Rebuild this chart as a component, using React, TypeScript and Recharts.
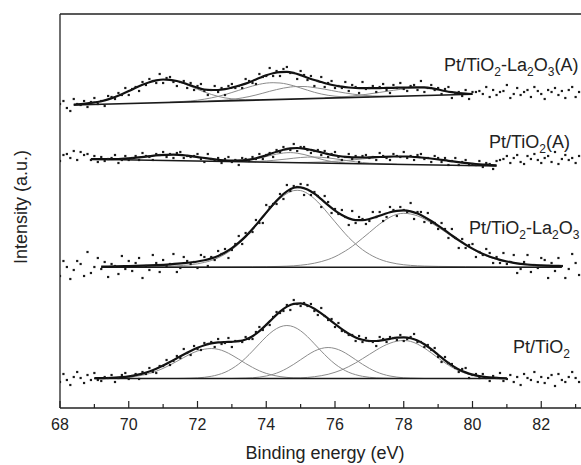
import React from 'react';
import { ComposedChart, Line, Scatter, XAxis, YAxis, ReferenceLine } from 'recharts';

// measured points: one value every 0.1 eV starting at 68.0 eV (intensity, a.u.)
const E_START = 68.0;
const E_STEP = 0.1;

const ptLaA = [
  304, 307, 300, 297, 309, 304, 303, 307, 301, 306,
  310, 304, 307, 302, 312, 311, 309, 315, 313, 320,
  313, 319, 321, 317, 326, 323, 329, 327, 325, 334,
  325, 330, 331, 326, 322, 326, 327, 320, 325, 318,
  322, 324, 317, 313, 318, 322, 316, 320, 313, 322,
  324, 320, 322, 320, 329, 327, 325, 324, 334, 331,
  332, 340, 332, 337, 332, 339, 341, 335, 335, 329,
  337, 333, 328, 332, 322, 327, 331, 321, 325, 327,
  320, 322, 320, 326, 317, 323, 321, 315, 326, 319,
  320, 322, 316, 321, 324, 318, 315, 323, 320, 325,
  319, 317, 322, 323, 318, 327, 316, 320, 323, 318,
  320, 314, 319, 321, 310, 315, 316, 312, 318, 309,
  316, 316, 317, 314, 321, 311, 318, 313, 316, 317,
  323, 310, 314, 320, 313, 316, 318, 311, 321, 317,
  314, 309, 318, 316, 320, 313, 317, 310, 318, 321,
  311, 316, 314,
];

const ptTiA = [
  247, 253, 254, 250, 257, 248, 256, 253, 254, 248,
  252, 246, 251, 247, 249, 250, 253, 245, 248, 252,
  248, 250, 252, 248, 255, 252, 251, 248, 254, 253,
  256, 251, 254, 250, 255, 256, 250, 252, 251, 252,
  254, 249, 246, 254, 249, 248, 250, 245, 249, 251,
  246, 248, 243, 250, 249, 247, 251, 249, 254, 249,
  253, 255, 251, 258, 256, 261, 259, 258, 264, 257,
  261, 261, 258, 255, 257, 258, 253, 257, 251, 254,
  256, 251, 248, 251, 254, 249, 252, 246, 252, 253,
  250, 251, 248, 255, 252, 250, 248, 254, 252, 251,
  256, 250, 252, 248, 253, 254, 249, 250, 246, 252,
  250, 246, 250, 243, 247, 250, 243, 246, 248, 243,
  244, 243, 247, 241, 245, 244, 239, 247, 248, 249,
  252, 245, 250, 253, 246, 244, 252, 249, 254, 248,
  245, 250, 252, 246, 256, 244, 249, 253, 248, 250,
  245, 252, 254,
];

const ptLa = [
  132, 147, 141, 129, 138, 147, 144, 132, 156, 135,
  141, 150, 139, 146, 131, 144, 142, 134, 152, 139,
  147, 137, 145, 150, 130, 142, 138, 153, 145, 136,
  148, 142, 144, 154, 136, 140, 151, 147, 144, 146,
  140, 153, 151, 142, 151, 148, 157, 154, 159, 150,
  158, 164, 172, 164, 175, 175, 176, 188, 185, 185,
  203, 201, 204, 204, 214, 209, 223, 217, 222, 221,
  224, 213, 223, 213, 216, 212, 201, 212, 206, 195,
  199, 194, 198, 191, 183, 197, 185, 191, 189, 184,
  187, 196, 191, 196, 187, 191, 201, 198, 192, 201,
  198, 196, 205, 189, 196, 196, 186, 195, 185, 185,
  179, 185, 179, 170, 179, 170, 160, 169, 160, 163,
  164, 151, 156, 153, 159, 155, 145, 151, 145, 155,
  144, 146, 153, 135, 139, 146, 153, 136, 143, 140,
  150, 148, 130, 145, 137, 150, 142, 130, 139, 154,
  145, 133, 148,
];

const ptTi = [
  26, 34, 28, 23, 31, 36, 30, 25, 33, 28,
  35, 28, 27, 31, 30, 33, 26, 30, 33, 35,
  29, 32, 34, 29, 36, 34, 40, 36, 35, 42,
  42, 48, 43, 47, 52, 50, 59, 55, 53, 62,
  59, 58, 65, 64, 66, 61, 69, 64, 65, 70,
  61, 67, 67, 66, 71, 69, 69, 76, 81, 78,
  83, 83, 91, 96, 95, 97, 103, 98, 108, 104,
  102, 105, 102, 104, 97, 93, 100, 92, 88, 89,
  81, 85, 77, 76, 73, 73, 67, 72, 66, 70,
  67, 66, 62, 71, 69, 66, 71, 70, 68, 73,
  67, 69, 71, 74, 66, 66, 61, 63, 58, 60,
  51, 46, 51, 45, 44, 40, 36, 39, 40, 30,
  33, 34, 30, 34, 30, 27, 32, 30, 35, 27,
  29, 33, 26, 31, 23, 34, 30, 28, 36, 26,
  31, 25, 30, 33, 22, 34, 28, 26, 31, 36,
  30, 26, 34,
];

// fitted curves as [energy, intensity]
// Pt/TiO2-La2O3(A)
const laABase = [[68.4, 303.0], [80.0, 313.7]];
const laAFit = [
  [68.4, 303.3], [68.6, 303.8], [68.8, 304.6], [69.0, 305.6], [69.2, 306.8], [69.4, 308.6],
  [69.6, 311.0], [69.8, 313.8], [70.0, 316.9], [70.2, 320.2], [70.4, 323.3], [70.6, 325.8],
  [70.8, 327.6], [71.0, 328.5], [71.2, 328.2], [71.4, 327.0], [71.6, 325.0], [71.8, 322.6],
  [72.0, 320.3], [72.2, 318.5], [72.4, 318.0], [72.6, 318.0], [72.8, 318.8], [73.0, 320.4],
  [73.2, 322.2], [73.4, 324.4], [73.6, 327.1], [73.8, 330.0], [74.0, 332.7], [74.2, 334.7],
  [74.4, 335.9], [74.6, 336.1], [74.8, 335.0], [75.0, 332.9], [75.2, 330.3], [75.4, 328.0],
  [75.6, 326.0], [75.8, 324.0], [76.0, 322.5], [76.2, 321.3], [76.4, 320.5], [76.6, 320.0],
  [76.8, 319.8], [77.0, 319.8], [77.2, 319.9], [77.4, 320.0], [77.6, 320.1], [77.8, 320.3],
  [78.0, 320.4], [78.2, 320.6], [78.4, 320.7], [78.6, 320.6], [78.8, 319.8], [79.0, 318.5],
  [79.2, 317.0], [79.4, 315.8], [79.6, 314.9], [79.8, 314.3], [80.0, 314.0],
];
const laAPeak1 = [
  [68.4, 303.3], [68.6, 303.8], [68.8, 304.6], [69.0, 305.6], [69.2, 306.8], [69.4, 308.6],
  [69.6, 311.0], [69.8, 313.8], [70.0, 316.9], [70.2, 320.2], [70.4, 323.3], [70.6, 325.8],
  [70.8, 327.6], [71.0, 328.4], [71.2, 328.0], [71.4, 326.6], [71.6, 324.4], [71.8, 321.6],
  [72.0, 318.7], [72.2, 316.0], [72.4, 313.6], [72.6, 311.6], [72.8, 310.1], [73.0, 309.2],
  [73.2, 308.6], [73.4, 308.2], [73.6, 308.1], [73.8, 308.0],
];
const laAPeak2 = [
  [71.2, 305.8], [71.6, 306.6], [72.0, 307.8], [72.4, 310.1], [72.8, 313.4], [73.2, 317.7],
  [73.6, 322.0], [73.8, 323.7], [74.0, 324.9], [74.2, 325.3], [74.4, 325.0], [74.6, 323.9],
  [74.8, 322.2], [75.0, 320.0], [75.2, 317.8], [75.4, 315.7], [75.6, 314.0], [75.8, 312.7],
  [76.0, 311.8], [76.2, 311.3], [76.6, 310.9], [77.0, 310.9],
];
const laAPeak3 = [
  [72.3, 306.8], [72.7, 307.6], [72.9, 308.2], [73.1, 309.0], [73.3, 310.1], [73.5, 311.4],
  [73.7, 313.0], [73.9, 314.8], [74.1, 316.7], [74.3, 318.4], [74.5, 319.9], [74.7, 321.0],
  [74.9, 321.5], [75.1, 321.5], [75.3, 320.9], [75.5, 319.9], [75.7, 318.8], [75.9, 317.5],
  [76.1, 316.2], [76.3, 315.0], [76.5, 314.0], [76.7, 313.1], [76.9, 312.5], [77.1, 312.1],
  [77.3, 311.9], [77.7, 311.8],
];
const laAPeak4 = [
  [75.7, 310.0], [76.1, 310.8], [76.5, 312.0], [76.9, 313.6], [77.3, 315.6], [77.7, 317.7],
  [78.1, 319.4], [78.5, 320.3], [78.9, 319.1], [79.3, 316.3], [79.7, 314.5], [80.0, 314.0],
];

// Pt/TiO2(A)
const tiABase = [[68.9, 248.7], [80.7, 242.0]];
const tiAFit = [
  [68.9, 248.8], [69.3, 248.8], [69.7, 249.0], [70.1, 249.9], [70.5, 251.4], [70.9, 252.9],
  [71.3, 253.4], [71.7, 252.4], [72.1, 250.5], [72.5, 248.6], [72.9, 247.5], [73.3, 247.7],
  [73.5, 248.4], [73.7, 249.7], [73.9, 251.6], [74.1, 253.9], [74.3, 256.2], [74.5, 258.3],
  [74.7, 259.7], [74.9, 260.0], [75.1, 259.4], [75.3, 258.1], [75.5, 256.5], [75.7, 254.8],
  [75.9, 253.2], [76.1, 252.0], [76.3, 251.1], [76.5, 250.6], [76.9, 250.5], [77.3, 251.0],
  [77.7, 251.5], [78.1, 251.5], [78.5, 250.5], [78.9, 249.0], [79.3, 247.2], [79.7, 245.4],
  [80.1, 244.0], [80.4, 243.3], [80.7, 242.6],
];
const tiAPeak1 = [
  [68.9, 248.7], [69.3, 248.8], [69.7, 249.0], [70.1, 249.9], [70.5, 251.4], [70.9, 252.9],
  [71.3, 253.4], [71.7, 252.4], [72.1, 250.5], [72.5, 248.6], [72.9, 247.3], [73.3, 246.5],
  [73.7, 246.0],
];
const tiAPeak2 = [
  [72.7, 246.7], [73.1, 246.8], [73.3, 247.2], [73.5, 247.9], [73.7, 249.1], [73.9, 250.6],
  [74.1, 252.3], [74.3, 253.9], [74.5, 255.0], [74.7, 255.4], [74.9, 254.8], [75.1, 253.5],
  [75.3, 251.6], [75.5, 249.7], [75.7, 247.9], [75.9, 246.5], [76.1, 245.6], [76.3, 245.0],
  [76.7, 244.4],
];
const tiAPeak3 = [
  [73.4, 246.4], [73.8, 246.7], [74.0, 247.1], [74.2, 247.6], [74.4, 248.3], [74.6, 249.0],
  [74.8, 249.8], [75.0, 250.5], [75.2, 250.9], [75.4, 251.0], [75.6, 250.7], [75.8, 250.1],
  [76.0, 249.2], [76.2, 248.2], [76.4, 247.1], [76.6, 246.2], [76.8, 245.5], [77.0, 244.9],
  [77.2, 244.5], [77.4, 244.2], [77.8, 243.7],
];
const tiAPeak4 = [
  [74.8, 245.5], [75.2, 245.6], [75.6, 246.0], [76.0, 246.7], [76.4, 247.7], [76.8, 249.1],
  [77.2, 250.4], [77.6, 251.4], [78.0, 251.5], [78.4, 250.9], [78.8, 249.5], [79.2, 247.7],
  [79.6, 245.9], [80.0, 244.4], [80.4, 243.3], [80.7, 242.6],
];

// Pt/TiO2-La2O3
const laBase = [[69.2, 140.7], [82.6, 140.7]];
const laFit = [
  [69.2, 141.3], [69.6, 141.6], [70.0, 141.9], [70.4, 142.3], [70.8, 142.9], [71.2, 143.7],
  [71.6, 144.8], [72.0, 146.5], [72.2, 147.8], [72.4, 149.6], [72.6, 152.1], [72.8, 155.5],
  [73.0, 159.8], [73.2, 165.3], [73.4, 171.6], [73.6, 179.0], [73.8, 187.1], [74.0, 195.4],
  [74.2, 203.6], [74.4, 210.8], [74.6, 216.6], [74.8, 220.2], [74.9, 220.8], [75.0, 220.6],
  [75.2, 218.4], [75.4, 214.3], [75.6, 208.8], [75.8, 202.8], [76.0, 197.4], [76.2, 193.0],
  [76.4, 189.6], [76.6, 187.9], [76.8, 187.8], [77.0, 189.0], [77.2, 191.1], [77.4, 193.5],
  [77.6, 195.8], [77.8, 197.2], [78.0, 197.6], [78.2, 196.6], [78.4, 194.4], [78.6, 191.0],
  [78.8, 187.0], [79.0, 182.4], [79.2, 177.6], [79.4, 172.6], [79.6, 167.8], [79.8, 163.4],
  [80.0, 159.4], [80.2, 155.8], [80.4, 152.8], [80.6, 150.2], [80.8, 148.1], [81.0, 146.5],
  [81.2, 145.2], [81.4, 144.2], [81.6, 143.5], [81.8, 143.0], [82.0, 142.6], [82.2, 142.3],
  [82.4, 142.1], [82.6, 142.0],
];
const laPeak1 = [
  [69.2, 141.1], [69.6, 141.2], [70.0, 141.3], [70.4, 141.4], [70.8, 141.6], [71.2, 141.9],
  [71.6, 142.6], [72.0, 144.2], [72.2, 145.6], [72.4, 147.5], [72.6, 150.2], [72.8, 153.8],
  [73.0, 158.3], [73.2, 164.0], [73.4, 170.5], [73.6, 178.1], [73.8, 186.2], [74.0, 194.4],
  [74.2, 202.4], [74.4, 209.3], [74.6, 214.5], [74.8, 217.4], [74.9, 217.7], [75.0, 217.4],
  [75.2, 214.5], [75.4, 209.3], [75.6, 202.4], [75.8, 194.4], [76.0, 186.2], [76.2, 178.1],
  [76.4, 170.5], [76.6, 164.0], [76.8, 158.3], [77.0, 153.8], [77.2, 150.2], [77.4, 147.5],
  [77.6, 145.6], [77.8, 144.2], [78.2, 142.6], [78.6, 141.9], [79.0, 141.6], [79.8, 141.3],
  [80.6, 141.1], [82.6, 140.9],
];
const laPeak2 = [
  [69.2, 140.9], [72.0, 141.0], [73.0, 141.1], [73.6, 141.2], [74.0, 141.3], [74.4, 141.6],
  [74.8, 142.2], [75.0, 142.8], [75.2, 143.6], [75.4, 144.8], [75.6, 146.4], [75.8, 148.5],
  [76.0, 151.3], [76.2, 155.0], [76.4, 159.2], [76.6, 164.2], [76.8, 169.8], [77.0, 175.5],
  [77.2, 181.3], [77.4, 186.5], [77.6, 190.8], [77.8, 193.7], [78.0, 194.7], [78.2, 194.0],
  [78.4, 192.1], [78.6, 189.0], [78.8, 185.2], [79.0, 180.8], [79.2, 176.2], [79.4, 171.4],
  [79.6, 166.8], [79.8, 162.5], [80.0, 158.6], [80.2, 155.1], [80.4, 152.1], [80.6, 149.6],
  [80.8, 147.6], [81.0, 145.9], [81.2, 144.7], [81.4, 143.7], [81.6, 143.0], [81.8, 142.5],
  [82.0, 142.1], [82.2, 141.8], [82.4, 141.6], [82.6, 141.5],
];

// Pt/TiO2
const tiBase = [[69.0, 29.5], [81.0, 29.5]];
const tiFit = [
  [69.0, 29.8], [69.2, 29.9], [69.4, 30.0], [69.6, 30.3], [69.8, 30.8], [70.0, 31.6],
  [70.2, 32.8], [70.4, 34.4], [70.6, 36.5], [70.8, 39.2], [71.0, 42.4], [71.2, 46.0],
  [71.4, 49.8], [71.6, 53.5], [71.8, 57.0], [72.0, 60.2], [72.2, 62.8], [72.4, 64.6],
  [72.6, 65.6], [72.8, 66.0], [73.0, 66.2], [73.2, 66.8], [73.4, 68.5], [73.6, 71.8],
  [73.8, 76.8], [74.0, 83.2], [74.2, 90.0], [74.4, 96.4], [74.6, 101.4], [74.8, 104.2],
  [75.0, 104.6], [75.2, 102.8], [75.4, 99.2], [75.6, 94.6], [75.8, 89.4], [76.0, 84.0],
  [76.2, 78.8], [76.4, 74.2], [76.6, 70.6], [76.8, 68.2], [77.0, 67.0], [77.2, 67.0],
  [77.4, 67.9], [77.6, 69.2], [77.8, 70.3], [78.0, 70.6], [78.2, 69.8], [78.4, 67.6],
  [78.6, 63.8], [78.8, 58.8], [79.0, 53.2], [79.2, 47.6], [79.4, 42.6], [79.6, 38.6],
  [79.8, 35.6], [80.0, 33.4], [80.2, 31.9], [80.4, 30.9], [80.6, 30.3], [80.8, 29.9],
  [81.0, 29.7],
];
const tiPeak1 = [
  [69.0, 29.5], [69.4, 29.7], [69.6, 29.9], [69.8, 30.2], [70.0, 30.7], [70.2, 31.6],
  [70.4, 32.8], [70.6, 34.5], [70.8, 36.8], [71.0, 39.6], [71.2, 43.0], [71.4, 46.7],
  [71.6, 50.5], [71.8, 54.1], [72.0, 57.0], [72.2, 58.8], [72.4, 59.5], [72.6, 58.7],
  [72.8, 56.4], [73.0, 52.9], [73.2, 48.8], [73.4, 44.5], [73.6, 40.6], [73.8, 37.2],
  [74.0, 34.6], [74.2, 32.7], [74.4, 31.4], [74.6, 30.6], [74.8, 30.1], [75.0, 29.8],
  [75.2, 29.6], [75.4, 29.5], [81.0, 29.5],
];
const tiPeak2 = [
  [69.0, 29.5], [71.4, 29.5], [71.6, 29.6], [71.8, 29.8], [72.0, 30.1], [72.2, 30.7],
  [72.4, 31.7], [72.6, 33.3], [72.8, 35.7], [73.0, 39.3], [73.2, 44.0], [73.4, 50.0],
  [73.6, 56.9], [73.8, 64.2], [74.0, 71.3], [74.2, 77.2], [74.4, 81.1], [74.6, 82.5],
  [74.8, 81.1], [75.0, 77.2], [75.2, 71.3], [75.4, 64.2], [75.6, 56.9], [75.8, 50.0],
  [76.0, 44.0], [76.2, 39.3], [76.4, 35.7], [76.6, 33.3], [76.8, 31.7], [77.0, 30.7],
  [77.2, 30.1], [77.4, 29.8], [77.6, 29.6], [77.8, 29.5], [81.0, 29.5],
];
const tiPeak3 = [
  [69.0, 29.5], [73.0, 29.5], [73.2, 29.7], [73.4, 29.9], [73.6, 30.2], [73.8, 30.9],
  [74.0, 32.0], [74.2, 33.7], [74.4, 36.2], [74.6, 39.6], [74.8, 43.7], [75.0, 48.3],
  [75.2, 52.9], [75.4, 56.9], [75.6, 59.5], [75.8, 60.5], [76.0, 59.5], [76.2, 56.9],
  [76.4, 52.9], [76.6, 48.3], [76.8, 43.7], [77.0, 39.6], [77.2, 36.2], [77.4, 33.7],
  [77.6, 32.0], [77.8, 30.9], [78.0, 30.2], [78.2, 29.9], [78.4, 29.7], [78.6, 29.5],
  [81.0, 29.5],
];
const tiPeak4 = [
  [69.0, 29.5], [74.4, 29.5], [74.6, 29.7], [74.8, 29.9], [75.0, 30.1], [75.2, 30.6],
  [75.4, 31.3], [75.6, 32.3], [75.8, 33.7], [76.0, 35.7], [76.2, 38.2], [76.4, 41.4],
  [76.6, 45.1], [76.8, 49.3], [77.0, 53.6], [77.2, 57.9], [77.4, 61.8], [77.6, 64.8],
  [77.8, 66.8], [78.0, 67.5], [78.2, 66.6], [78.4, 63.9], [78.6, 59.9], [78.8, 55.1],
  [79.0, 50.0], [79.2, 45.1], [79.4, 40.8], [79.6, 37.3], [79.8, 34.6], [80.0, 32.7],
  [80.2, 31.4], [80.4, 30.6], [80.6, 30.1], [80.8, 29.8], [81.0, 29.6],
];

const energyTicks = [68, 69, 70, 71, 72, 73, 74, 75, 76, 77, 78, 79, 80, 81, 82, 83];

const W = 620;
const H = 465;
const M = { top: 14, right: 10, bottom: 27, left: 60 };
const AXIS_Y = 408;
const FONT = '"Liberation Sans", Arial, Helvetica, sans-serif';

const toPts = (pairs: number[][]) => pairs.map(([x, y]) => ({ x, y }));
const toScatter = (vals: number[]) =>
  vals.map((y, i) => ({ x: Math.round((E_START + i * E_STEP) * 10) / 10, y }));

const scatterSets = [ptLaA, ptTiA, ptLa, ptTi].map(toScatter);
const peakSets = [
  laAPeak1, laAPeak2, laAPeak3, laAPeak4,
  tiAPeak1, tiAPeak2, tiAPeak3, tiAPeak4,
  laPeak1, laPeak2,
  tiPeak1, tiPeak2, tiPeak3, tiPeak4,
].map(toPts);
const baseSets = [laABase, tiABase, laBase, tiBase].map(toPts);
const fitSets = [laAFit, tiAFit, laFit, tiFit].map(toPts);

const Dot = (p: any) => (
  <rect x={p.cx - 1.1} y={p.cy - 1.1} width={2.2} height={2.2} fill="#1a1a1a" />
);

const EnergyTick = (p: any) => {
  const v = p.payload.value;
  const major = v % 2 === 0;
  return (
    <g>
      <line x1={p.x} x2={p.x} y1={AXIS_Y} y2={AXIS_Y - (major ? 7 : 4)} stroke="#222" strokeWidth={1.2} />
      {major && (
        <text x={p.x} y={AXIS_Y + 22} textAnchor="middle" fontSize={16} fontFamily={FONT} fill="#222">
          {v}
        </text>
      )}
    </g>
  );
};

// sample name with subscripts
const SampleName = ({ x, y, parts }: { x: number; y: number; parts: string[] }) => (
  <text x={x} y={y} fontSize={18} fontFamily={FONT} fill="#222">
    {parts.map((t, i) =>
      i % 2 === 1 ? (
        <tspan key={i} fontSize={12} dy={5}>{t}</tspan>
      ) : (
        <tspan key={i} dy={i === 0 ? 0 : -5}>{t}</tspan>
      )
    )}
  </text>
);

export default function App() {
  return (
    <div style={{ position: 'absolute', left: 0, top: 0, width: 581, height: 465, overflow: 'hidden', background: '#fff' }}>
      <ComposedChart width={W} height={H} margin={M}>
        <XAxis
          type="number"
          dataKey="x"
          domain={[68, 84]}
          ticks={energyTicks}
          interval={0}
          tickLine={false}
          tick={<EnergyTick />}
          height={30}
          axisLine={{ stroke: '#222', strokeWidth: 1.3 }}
          allowDataOverflow
        />
        <YAxis
          type="number"
          dataKey="y"
          domain={[0, 394]}
          tick={false}
          tickLine={false}
          width={0}
          axisLine={false}
          allowDataOverflow
        />
        <ReferenceLine y={394} stroke="#222" strokeWidth={1.3} />
        <ReferenceLine x={68} stroke="#222" strokeWidth={1.3} />

        {scatterSets.map((d, i) => (
          <Scatter key={`s${i}`} data={d} shape={Dot} isAnimationActive={false} />
        ))}
        {peakSets.map((d, i) => (
          <Line key={`p${i}`} data={d} dataKey="y" type="monotone" stroke="#8c8c8c" strokeWidth={1}
            dot={false} activeDot={false} isAnimationActive={false} />
        ))}
        {baseSets.map((d, i) => (
          <Line key={`b${i}`} data={d} dataKey="y" type="linear" stroke="#1a1a1a" strokeWidth={1.6}
            dot={false} activeDot={false} isAnimationActive={false} />
        ))}
        {fitSets.map((d, i) => (
          <Line key={`f${i}`} data={d} dataKey="y" type="monotone" stroke="#111" strokeWidth={2.2}
            dot={false} activeDot={false} isAnimationActive={false} />
        ))}

        <SampleName x={444} y={71} parts={['Pt/TiO', '2', '-La', '2', 'O', '3', '(A)']} />
        <SampleName x={489} y={148} parts={['Pt/TiO', '2', '(A)']} />
        <SampleName x={469} y={234} parts={['Pt/TiO', '2', '-La', '2', 'O', '3']} />
        <SampleName x={513} y={353} parts={['Pt/TiO', '2']} />

        <text x={325} y={459} textAnchor="middle" fontSize={18} fontFamily={FONT} fill="#222">
          Binding energy (eV)
        </text>
        <text x={27} y={207} textAnchor="middle" fontSize={18} fontFamily={FONT} fill="#222"
          transform="rotate(-90 27 207)">
          Intensity (a.u.)
        </text>
      </ComposedChart>
    </div>
  );
}
